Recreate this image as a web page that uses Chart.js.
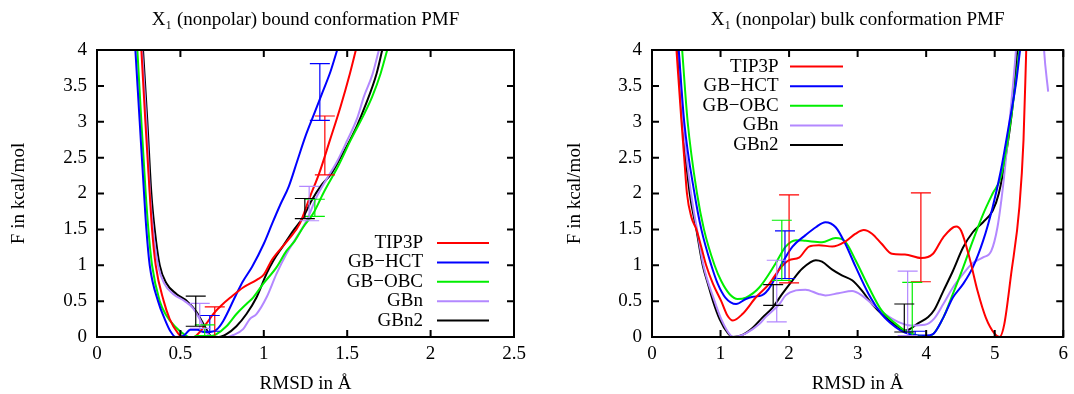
<!DOCTYPE html>
<html>
<head>
<meta charset="utf-8">
<script src="https://cdn.jsdelivr.net/npm/chart.js@4.4.1/dist/chart.umd.min.js"></script>
<style>
  html, body { margin: 0; padding: 0; background: #fff; font-family: "Liberation Serif", serif; }
  .panel { position: absolute; top: 0; width: 537px; height: 394px; }
  #boundWrap { left: 0; }
  #bulkWrap { left: 537px; }
</style>
</head>
<body>
<div class="panel" id="boundWrap"><canvas id="boundChart"></canvas></div>
<div class="panel" id="bulkWrap"><canvas id="bulkChart"></canvas></div>
<script>
// Series names (legend order)
const seriesNames = ['TIP3P', 'GB\u2212HCT', 'GB\u2212OBC', 'GBn', 'GBn2'];

// ---- bound conformation PMF (left) ----
const boundTip3pRmsd = [0.266, 0.29, 0.316, 0.33, 0.352, 0.40, 0.436, 0.486, 0.51, 0.58, 0.62, 0.66, 0.70, 0.75, 0.80, 0.876, 0.96, 1.0, 1.05, 1.145, 1.216, 1.276, 1.332, 1.396, 1.46, 1.516, 1.552];
const boundTip3pF    = [4.0, 3.0, 2.0, 1.5, 1.0, 0.5, 0.25, 0.05, 0.0, 0.0, 0.08, 0.2, 0.33, 0.45, 0.55, 0.69, 0.8, 0.87, 1.08, 1.35, 1.58, 1.95, 2.28, 2.74, 3.21, 3.67, 4.0];

const boundHctRmsd = [0.23, 0.256, 0.282, 0.296, 0.316, 0.366, 0.406, 0.44, 0.472, 0.52, 0.56, 0.6, 0.64, 0.68, 0.716, 0.756, 0.836, 0.876, 0.93, 1.0, 1.05, 1.1, 1.15, 1.2, 1.25, 1.3, 1.35, 1.4, 1.44];
const boundHctF    = [4.0, 3.0, 2.0, 1.5, 1.0, 0.5, 0.25, 0.08, 0.0, 0.02, 0.1, 0.1, 0.07, 0.07, 0.1, 0.22, 0.6, 0.78, 0.98, 1.3, 1.58, 1.85, 2.1, 2.45, 2.8, 3.1, 3.4, 3.7, 4.0];

const boundObcRmsd = [0.242, 0.266, 0.292, 0.308, 0.33, 0.376, 0.416, 0.466, 0.526, 0.55, 0.62, 0.68, 0.716, 0.776, 0.836, 0.896, 0.936, 0.996, 1.076, 1.136, 1.186, 1.236, 1.296, 1.356, 1.45, 1.52, 1.6, 1.65, 1.7, 1.74];
const boundObcF    = [4.0, 3.0, 2.0, 1.5, 1.0, 0.5, 0.3, 0.15, 0.03, 0.0, 0.0, 0.01, 0.04, 0.15, 0.32, 0.46, 0.55, 0.74, 0.97, 1.2, 1.34, 1.53, 1.72, 2.0, 2.4, 2.74, 3.1, 3.35, 3.67, 4.0];

const boundGbnRmsd = [0.27, 0.296, 0.318, 0.336, 0.366, 0.402, 0.456, 0.526, 0.576, 0.616, 0.66, 0.7, 0.78, 0.82, 0.876, 0.916, 0.956, 1.016, 1.076, 1.136, 1.196, 1.256, 1.316, 1.376, 1.44, 1.5, 1.56, 1.6, 1.65, 1.69];
const boundGbnF    = [4.0, 3.0, 2.0, 1.5, 1.0, 0.75, 0.6, 0.5, 0.4, 0.25, 0.05, 0.0, 0.0, 0.03, 0.11, 0.25, 0.32, 0.55, 0.88, 1.16, 1.39, 1.62, 1.95, 2.2, 2.45, 2.74, 3.05, 3.35, 3.65, 4.0];

const boundGbn2Rmsd = [0.276, 0.302, 0.326, 0.346, 0.376, 0.416, 0.476, 0.54, 0.596, 0.646, 0.68, 0.73, 0.776, 0.836, 0.896, 0.956, 1.016, 1.056, 1.116, 1.176, 1.236, 1.286, 1.34, 1.406, 1.46, 1.516, 1.56, 1.606, 1.676, 1.71];
const boundGbn2F    = [4.0, 3.0, 2.0, 1.5, 1.0, 0.75, 0.6, 0.5, 0.35, 0.15, 0.02, 0.0, 0.04, 0.15, 0.32, 0.55, 0.88, 1.06, 1.27, 1.48, 1.67, 1.9, 2.1, 2.28, 2.5, 2.74, 2.95, 3.21, 3.67, 4.0];

// error bars: two per series, in legend order
const boundErrSeries = [0, 0, 1, 1, 2, 2, 3, 3, 4, 4];
const boundErrRmsd = [0.706, 1.366, 0.676, 1.336, 0.646, 1.306, 0.616, 1.272, 0.592, 1.246];
const boundErrLow  = [0.0, 2.26, 0.08, 3.02, 0.02, 1.68, 0.12, 1.62, 0.15, 1.65];
const boundErrHigh = [0.42, 3.08, 0.30, 3.81, 0.17, 1.92, 0.47, 2.10, 0.57, 1.93];

// ---- bulk conformation PMF (right) ----
const bulkTip3pRmsd = [0.357, 0.43, 0.47, 0.51, 0.575, 0.647, 0.72, 0.79, 0.89, 1.01, 1.1, 1.18, 1.32, 1.52, 1.71, 1.855, 2.0, 2.145, 2.29, 2.435, 2.63, 2.82, 2.97, 3.09, 3.21, 3.35, 3.5, 3.69, 3.93, 4.1, 4.25, 4.44, 4.51, 4.63, 4.75, 4.87, 4.995, 5.07, 5.14, 5.24, 5.36, 5.42, 5.46];
const bulkTip3pF    = [4.0, 3.0, 2.5, 2.0, 1.67, 1.5, 1.25, 1.0, 0.74, 0.5, 0.3, 0.23, 0.32, 0.557, 0.74, 0.94, 1.07, 1.107, 1.26, 1.28, 1.26, 1.33, 1.44, 1.49, 1.44, 1.3, 1.16, 1.15, 1.1, 1.16, 1.39, 1.54, 1.48, 1.11, 0.64, 0.27, 0.05, 0.0, 0.18, 0.88, 1.81, 2.74, 4.0];

const bulkHctRmsd = [0.39, 0.47, 0.62, 0.72, 0.865, 0.96, 1.07, 1.227, 1.37, 1.47, 1.6, 1.66, 1.75, 1.9, 2.05, 2.24, 2.39, 2.53, 2.68, 2.82, 2.97, 3.16, 3.35, 3.55, 3.69, 3.88, 4.0, 4.1, 4.25, 4.39, 4.54, 4.68, 4.83, 4.97, 5.09, 5.21, 5.31, 5.37];
const bulkHctF    = [4.0, 3.0, 2.0, 1.5, 1.0, 0.74, 0.55, 0.46, 0.53, 0.56, 0.58, 0.62, 0.74, 1.03, 1.26, 1.42, 1.53, 1.6, 1.53, 1.3, 0.98, 0.6, 0.32, 0.14, 0.06, 0.02, 0.02, 0.04, 0.27, 0.55, 0.74, 0.97, 1.34, 1.81, 2.32, 2.97, 3.53, 4.0];

const bulkObcRmsd = [0.44, 0.52, 0.657, 0.758, 0.913, 1.01, 1.13, 1.25, 1.37, 1.565, 1.8, 1.95, 2.1, 2.24, 2.48, 2.68, 2.82, 2.97, 3.16, 3.35, 3.55, 3.69, 3.88, 3.96, 4.1, 4.25, 4.39, 4.54, 4.68, 4.83, 4.97, 5.09, 5.19, 5.28, 5.36];
const bulkObcF    = [4.0, 3.0, 2.0, 1.5, 1.0, 0.78, 0.6, 0.53, 0.55, 0.69, 1.02, 1.26, 1.35, 1.34, 1.32, 1.38, 1.33, 1.07, 0.7, 0.37, 0.19, 0.09, 0.02, 0.0, 0.04, 0.27, 0.6, 0.97, 1.34, 1.71, 2.0, 2.23, 2.74, 3.35, 4.0];

const bulkGbnRmsd = [0.39, 0.455, 0.57, 0.657, 0.75, 0.913, 1.01, 1.15, 1.2, 1.37, 1.565, 1.66, 1.86, 1.95, 2.1, 2.24, 2.43, 2.53, 2.72, 2.92, 3.06, 3.21, 3.4, 3.59, 3.78, 3.98, 4.12, 4.25, 4.39, 4.54, 4.68, 4.83, 4.95, 5.04, 5.12, 5.19, 5.26, 5.31, 5.33, 5.5, 5.71, 5.72, 5.78];
const bulkGbnF    = [4.0, 3.0, 2.0, 1.5, 1.0, 0.5, 0.25, 0.02, 0.0, 0.05, 0.18, 0.28, 0.46, 0.58, 0.65, 0.66, 0.6, 0.58, 0.61, 0.64, 0.58, 0.46, 0.32, 0.21, 0.16, 0.17, 0.26, 0.46, 0.69, 0.88, 1.03, 1.11, 1.2, 1.53, 2.09, 2.74, 3.44, 4.0, 4.3, null, 4.2, 4.0, 3.42];

const bulkGbn2Rmsd = [0.38, 0.44, 0.55, 0.647, 0.74, 0.816, 0.89, 0.986, 1.11, 1.18, 1.32, 1.47, 1.61, 1.76, 1.9, 2.05, 2.19, 2.39, 2.48, 2.63, 2.77, 2.92, 3.06, 3.21, 3.4, 3.59, 3.7, 3.88, 4.03, 4.12, 4.25, 4.39, 4.54, 4.68, 4.83, 4.97, 5.06, 5.16, 5.26, 5.33];
const bulkGbn2F    = [4.0, 3.0, 2.0, 1.5, 1.0, 0.74, 0.5, 0.25, 0.05, 0.0, 0.03, 0.13, 0.27, 0.41, 0.6, 0.79, 0.95, 1.07, 1.05, 0.94, 0.86, 0.79, 0.65, 0.46, 0.28, 0.14, 0.09, 0.19, 0.28, 0.38, 0.64, 0.92, 1.25, 1.46, 1.6, 1.76, 2.0, 2.51, 3.21, 4.0];

const bulkErrSeries = [0, 0, 1, 1, 2, 2, 3, 3, 4, 4];
const bulkErrRmsd = [2.0, 3.923, 1.94, 3.84, 1.894, 3.797, 1.82, 3.73, 1.768, 3.681];
const bulkErrLow  = [0.754, 0.77, 0.815, 0.02, 0.79, 0.01, 0.21, 0.02, 0.44, 0.07];
const bulkErrHigh = [1.98, 2.01, 1.48, 0.08, 1.627, 0.76, 1.07, 0.917, 0.73, 0.46];

// ---- styles ----
const seriesColors = ['#ff0000', '#0000ff', '#00ee00', '#b388ff', '#000000'];
const serif = '"Liberation Serif", "Times New Roman", serif';

function toPoints(xs, ys) {
    return xs.map((x, i) => ({ x: x, y: ys[i] }));
}

function buildDatasets(list) {
    return list.map((pair, i) => ({
        label: seriesNames[i],
        data: toPoints(pair[0], pair[1]),
        borderColor: seriesColors[i],
        backgroundColor: seriesColors[i],
        borderWidth: 2,
        pointRadius: 0,
        fill: false,
        spanGaps: false,
        cubicInterpolationMode: 'monotone'
    }));
}

// plain number labels: 0, 0.5, 1, 1.5 ...
function plainTick(value) {
    return String(Math.round(value * 100) / 100);
}

// Frame with inward ticks, error bars and gnuplot-style legend
const pmfPlugin = {
    id: 'pmf',
    afterDatasetsDraw(chart, args, opts) {
        const ctx = chart.ctx;
        const xs = chart.scales.x, ys = chart.scales.y;

        // error bars
        ctx.save();
        ctx.lineWidth = 1.2;
        opts.errRmsd.forEach((x, i) => {
            const px = xs.getPixelForValue(x);
            const lo = ys.getPixelForValue(opts.errLow[i]);
            const hi = ys.getPixelForValue(opts.errHigh[i]);
            ctx.strokeStyle = seriesColors[opts.errSeries[i]];
            ctx.beginPath();
            ctx.moveTo(px, lo); ctx.lineTo(px, hi);
            ctx.moveTo(px - 10, lo); ctx.lineTo(px + 10, lo);
            ctx.moveTo(px - 10, hi); ctx.lineTo(px + 10, hi);
            ctx.stroke();
        });
        ctx.restore();
    },
    afterDraw(chart, args, opts) {
        const ctx = chart.ctx;
        const xs = chart.scales.x, ys = chart.scales.y;
        const a = chart.chartArea;

        ctx.save();
        ctx.strokeStyle = '#000';
        ctx.lineWidth = 2;
        ctx.beginPath();
        xs.ticks.forEach(t => {
            const px = xs.getPixelForValue(t.value);
            ctx.moveTo(px, a.bottom); ctx.lineTo(px, a.bottom - 7);
            ctx.moveTo(px, a.top); ctx.lineTo(px, a.top + 7);
        });
        ys.ticks.forEach(t => {
            const py = ys.getPixelForValue(t.value);
            ctx.moveTo(a.left, py); ctx.lineTo(a.left + 7, py);
            ctx.moveTo(a.right, py); ctx.lineTo(a.right - 7, py);
        });
        ctx.stroke();
        ctx.strokeRect(a.left, a.top, a.right - a.left, a.bottom - a.top);

        // legend: text right-aligned, line sample to the right
        ctx.font = '19px ' + serif;
        ctx.textAlign = 'right';
        ctx.textBaseline = 'middle';
        chart.data.datasets.forEach((ds, i) => {
            const y = opts.legendTop + i * opts.legendStep;
            ctx.fillStyle = '#000';
            ctx.fillText(ds.label, opts.legendText, y);
            ctx.strokeStyle = ds.borderColor;
            ctx.lineWidth = 2;
            ctx.beginPath();
            ctx.moveTo(opts.legendLine[0], y);
            ctx.lineTo(opts.legendLine[1], y);
            ctx.stroke();
        });
        ctx.restore();
    }
};

function makePanel(canvasId, cfg) {
    return new Chart(document.getElementById(canvasId), {
        type: 'line',
        data: { datasets: cfg.datasets },
        options: {
            responsive: true,
            maintainAspectRatio: false,
            animation: false,
            events: [],
            layout: { padding: { left: 0, right: cfg.padRight, top: 0, bottom: 0 } },
            plugins: {
                legend: { display: false },
                tooltip: { enabled: false },
                title: {
                    display: true,
                    fullSize: false,
                    text: cfg.title,
                    color: '#000',
                    font: { family: serif, size: 19, weight: 'normal', lineHeight: 1 },
                    padding: { top: 10.5, bottom: 20.5 }
                },
                pmf: cfg.pmf
            },
            scales: {
                x: {
                    type: 'linear',
                    min: 0,
                    max: cfg.xMax,
                    grid: { display: false, drawTicks: false },
                    border: { display: false },
                    ticks: { stepSize: cfg.xStep, color: '#000', padding: 6, font: { family: serif, size: 19 }, callback: plainTick },
                    title: {
                        display: true,
                        text: 'RMSD in \u00c5',
                        color: '#000',
                        font: { family: serif, size: 19, lineHeight: 1 },
                        padding: { top: 0, bottom: 0.5 }
                    },
                    afterFit: function(scale) { scale.height = 57; }
                },
                y: {
                    min: 0,
                    max: 4,
                    grid: { display: false, drawTicks: false },
                    border: { display: false },
                    ticks: { stepSize: 0.5, color: '#000', padding: 10, font: { family: serif, size: 19 }, callback: plainTick },
                    title: {
                        display: true,
                        text: 'F in kcal/mol',
                        color: '#000',
                        font: { family: serif, size: 19, lineHeight: 1 },
                        padding: { top: cfg.yTitlePad, bottom: 0 }
                    },
                    afterFit: function(scale) { scale.width = cfg.yWidth; }
                }
            }
        },
        plugins: [pmfPlugin]
    });
}

function drawAll() {
    makePanel('boundChart', {
        title: 'X\u2081 (nonpolar) bound conformation PMF',
        datasets: buildDatasets([
            [boundTip3pRmsd, boundTip3pF],
            [boundHctRmsd, boundHctF],
            [boundObcRmsd, boundObcF],
            [boundGbnRmsd, boundGbnF],
            [boundGbn2Rmsd, boundGbn2F]
        ]),
        xMax: 2.5,
        xStep: 0.5,
        yWidth: 97,
        yTitlePad: 9.5,
        padRight: 23,
        pmf: {
            errSeries: boundErrSeries, errRmsd: boundErrRmsd, errLow: boundErrLow, errHigh: boundErrHigh,
            legendText: 423, legendLine: [437, 489], legendTop: 243, legendStep: 19.4
        }
    });

    makePanel('bulkChart', {
        title: 'X\u2081 (nonpolar) bulk conformation PMF',
        datasets: buildDatasets([
            [bulkTip3pRmsd, bulkTip3pF],
            [bulkHctRmsd, bulkHctF],
            [bulkObcRmsd, bulkObcF],
            [bulkGbnRmsd, bulkGbnF],
            [bulkGbn2Rmsd, bulkGbn2F]
        ]),
        xMax: 6,
        xStep: 1,
        yWidth: 115,
        yTitlePad: 29,
        padRight: 8,
        pmf: {
            errSeries: bulkErrSeries, errRmsd: bulkErrRmsd, errLow: bulkErrLow, errHigh: bulkErrHigh,
            legendText: 241.6, legendLine: [253, 306], legendTop: 66.6, legendStep: 19.6
        }
    });
}

document.fonts.load('19px "Liberation Serif"').then(drawAll, drawAll);
</script>
</body>
</html>
